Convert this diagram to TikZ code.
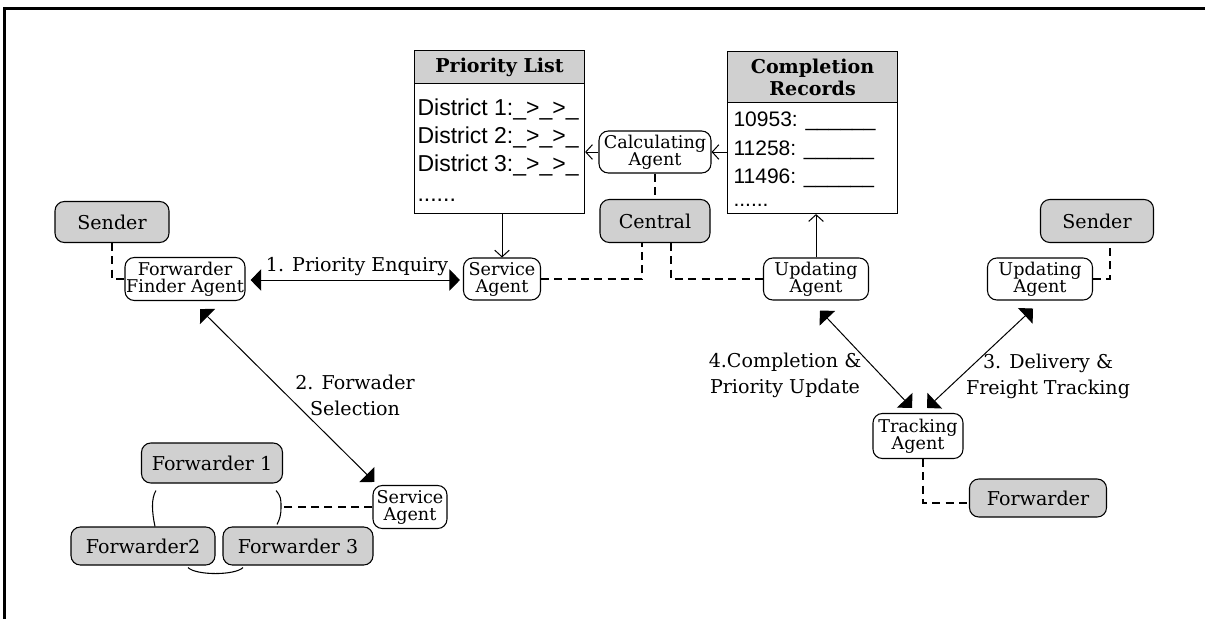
\documentclass[tikz,border=0pt]{standalone}
\usepackage{fontspec}
\setmainfont{DejaVu Serif}
\newfontfamily\tblfont{Liberation Sans}
\usetikzlibrary{arrows.meta,calc}
\definecolor{boxgray}{RGB}{208,208,208}
\begin{document}
\begin{tikzpicture}[x=0.75pt,y=-0.75pt,line width=0.8pt,
  agent/.style 2 args={draw, rounded corners=7pt, minimum width=#1, minimum height=#2,
    inner sep=0pt, align=center, font=\fontsize{13.2pt}{12.75pt}\selectfont},
  party/.style 2 args={draw, fill=boxgray, rounded corners=7pt, minimum width=#1, minimum height=#2,
    inner sep=0pt, align=center, font=\fontsize{14.3pt}{17pt}\selectfont},
  tblbody/.style 2 args={draw, fill=white, minimum width=#1, minimum height=#2, inner sep=0pt, anchor=north west},
  tblhead/.style 2 args={draw, fill=boxgray, minimum width=#1, minimum height=#2, inner sep=0pt,
    anchor=north west, align=center, font=\fontsize{14.3pt}{16.5pt}\selectfont\bfseries},
  row/.style={anchor=base west, inner sep=0pt, font=\tblfont\fontsize{17.25pt}{18pt}\selectfont},
  crow/.style={anchor=base west, inner sep=0pt, font=\tblfont\fontsize{15.75pt}{18pt}\selectfont},
  lbl/.style={anchor=base, inner sep=0pt, align=center, font=\fontsize{14.3pt}{19.5pt}\selectfont},
  link/.style={dash pattern=on 6pt off 4pt},
  biarrow/.style={{Triangle[length=8pt,width=16pt]}-{Triangle[length=8pt,width=16pt]}, line width=0.75pt},
  feed/.style={-{Straight Barb[length=5pt,width=11pt]}, line width=0.75pt}]

\useasboundingbox (0,0) rectangle (1205,619);

% frame: top and left edges only
\draw[line width=2.25pt] (1205,8) -- (4,8) -- (4,619);

% tables
\node[tblbody={127.5pt}{122.25pt}] (plist) at (414,50) {};
\node[tblhead={127.5pt}{24.75pt}] (plisth) at (414,50) {Priority List};
\node[row] (p1) at (417,115) {District 1:\_>\_>\_};
\node[row] (p2) at (417,143) {District 2:\_>\_>\_};
\node[row] (p3) at (417,171) {District 3:\_>\_>\_};
\node[row] (p4) at (417,201) {......};

\node[tblbody={127.5pt}{121.5pt}] (crec) at (727,51) {};
\node[tblhead={127.5pt}{38.25pt}] (crech) at (727,51) {Completion\\Records};
\node[crow] (c1) at (733,126) {10953: \_\_\_\_\_\_};
\node[crow] (c2) at (733,155) {11258: \_\_\_\_\_\_};
\node[crow] (c3) at (733,183) {11496: \_\_\_\_\_\_};
\node[crow] (c4) at (733,206) {......};

% parties
\node[party={85.5pt}{30.75pt}] (senderL) at (112,222) {Sender};
\node[party={82.5pt}{32.25pt}] (central) at (655,221) {Central};
\node[party={84.75pt}{32.25pt}] (senderR) at (1097,221) {Sender};
\node[party={102.75pt}{28.5pt}] (fwdR) at (1038,498) {Forwarder};
\node[party={105.75pt}{30pt}] (fwd1) at (212,463) {Forwarder 1};
\node[party={108pt}{28.5pt}] (fwd2) at (143,546) {Forwarder2};
\node[party={112.5pt}{28.5pt}] (fwd3) at (298,546) {Forwarder 3};

% agents
\node[agent={90pt}{32.25pt}] (ffa) at (185,279) {Forwarder\\Finder Agent};
\node[agent={57.75pt}{31.5pt}] (svcTop) at (502,279) {Service\\Agent};
\node[agent={84pt}{31.5pt}] (calc) at (655,152) {Calculating\\Agent};
\node[agent={78.75pt}{31.5pt}] (updM) at (816,279) {Updating\\Agent};
\node[agent={78.75pt}{31.5pt}] (updR) at (1040,279) {Updating\\Agent};
\node[agent={67.5pt}{33.75pt}] (track) at (918,436) {Tracking\\Agent};
\node[agent={55.5pt}{32.25pt}] (svcBot) at (410,507) {Service\\Agent};

% data flows
\draw[feed] (svcTop.north |- plist.south) -- (svcTop.north);
\draw[feed] (calc.west) -- (calc.west -| plist.east);
\draw[feed] (calc.east -| crec.west) -- (calc.east);
\draw[feed] (updM.north) -- (updM.north |- crec.south);

% dashed associations
\draw[link] (calc.south) -- (central.north);
\draw[link] (senderL.south) |- (ffa.west);
\draw[link] (svcTop.east) -| ($(central.south)+(-13,0)$);
\draw[link] ($(central.south)+(16,0)$) |- (updM.west);
\draw[link] (updR.east) -| ($(senderR.south)+(13,0)$);
\draw[link] ($(track.south)+(5,0)$) |- ($(fwdR.west)+(0,5)$);

% forwarder group
\coordinate (pj) at (281,507);
\draw ($(fwd1.south west)+(15,7)$) .. controls +(-5,8) and +(-3,-14) .. ($(fwd2.north)+(12,0)$);
\draw ($(fwd1.south east)+(-7,7)$) .. controls +(5,6) and +(0,-8) .. (pj)
      .. controls +(0,8) and +(3,-6) .. ($(fwd3.north)+(-21,-2)$);
\draw ($(fwd2.south)+(45,2)$) .. controls +(8,8) and +(-8,8) .. ($(fwd3.south)+(-55,2)$);
\draw[link] (svcBot.west) -- (pj);

% numbered interactions (label anchors sit on the last line's baseline)
\draw[biarrow] ($(ffa.east)+(5,1)$) -- ($(svcTop.west)+(-3,1)$);
\node[lbl] (l1) at (357,271) {1. Priority Enquiry};

\draw[biarrow] ($(ffa.south)+(15,8)$) -- ($(svcBot.north west)+(2,-3)$);
\node[lbl] (l2) at (355,415) {2. Forwader\\Selection};

\draw[biarrow] ($(track.north)+(9,-5)$) -- ($(updR.south)+(-7,8)$);
\node[lbl] (l3) at (1048,394) {3. Delivery \&\\Freight Tracking};

\draw[biarrow] ($(updM.south)+(4,10)$) -- ($(track.north)+(-6,-5)$);
\node[lbl] (l4) at (785,393) {4.Completion \&\\Priority Update};
\end{tikzpicture}
\end{document}
